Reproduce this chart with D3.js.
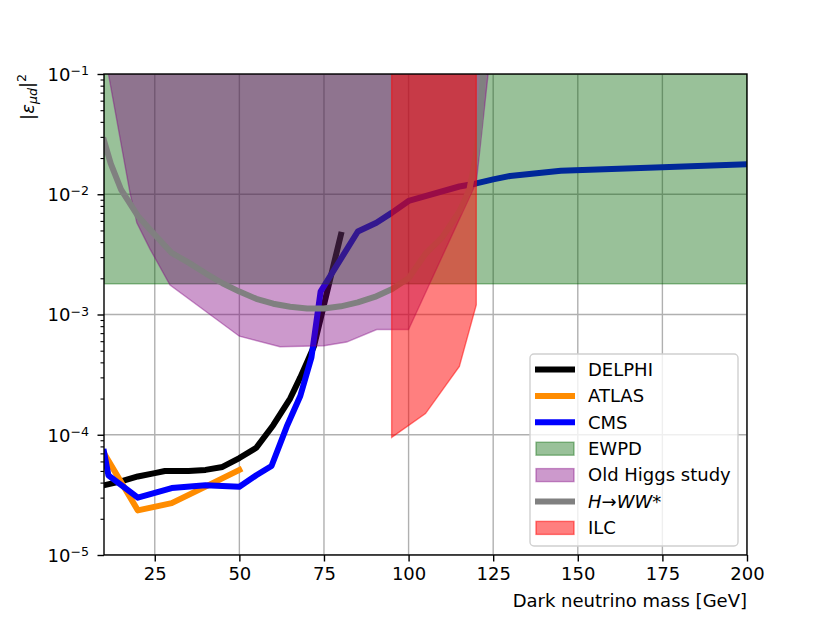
<!DOCTYPE html>
<html>
<head>
<meta charset="utf-8">
<script src="https://cdn.jsdelivr.net/npm/d3@7"></script>
<style>
  body { margin: 0; background: #fff; }
  text { font-family: "DejaVu Sans", sans-serif; }
</style>
</head>
<body>
<div id="chart"></div>
<script>
var width = 830;
var height = 623;
var fontSize = 18;

// Data (mass in GeV, |eps_mu d|^2)
var delphiMass = [10, 15, 20, 25, 28, 35, 40, 45, 50, 55, 60, 65, 68, 70, 72, 80];
var delphiEps = [3.8e-5, 4.1e-5, 4.5e-5, 4.8e-5, 5.0e-5, 5.0e-5, 5.1e-5, 5.4e-5, 6.4e-5, 7.8e-5, 1.2e-4, 2.0e-4, 3.0e-4, 4.0e-4, 5.4e-4, 4.6e-3];

var atlasMass = [10, 20, 30, 40, 50];
var atlasEps = [7.0e-5, 2.35e-5, 2.7e-5, 3.7e-5, 5.1e-5];

var cmsMass = [10, 11.3, 20, 30, 40, 50, 55, 59.5, 64, 68, 71.3, 74, 85, 90.5, 95, 100, 115, 120, 125, 130, 145, 175, 200];
var cmsEps = [7.2e-5, 4.6e-5, 3.0e-5, 3.6e-5, 3.8e-5, 3.7e-5, 4.6e-5, 5.5e-5, 1.17e-4, 2.1e-4, 4.4e-4, 1.55e-3, 4.9e-3, 5.8e-3, 7.0e-3, 8.8e-3, 1.16e-2, 1.23e-2, 1.33e-2, 1.42e-2, 1.57e-2, 1.68e-2, 1.78e-2];

var ewpdMass = [10, 200];
var ewpdLower = [1.8e-3, 1.8e-3];

var higgsMass = [10, 17.7, 19.7, 23.6, 29.5, 50, 62, 75, 81.7, 90.6, 100, 120, 123.5];
var higgsLower = [0.16, 1.02e-2, 5.8e-3, 3.5e-3, 1.76e-3, 6.6e-4, 5.4e-4, 5.5e-4, 5.9e-4, 7.5e-4, 7.5e-4, 1.25e-2, 0.1];

var hwwMass = [10, 12, 15, 20, 25, 30, 35, 40, 45, 50, 55, 60, 65, 70, 75, 80, 85, 90, 95, 100, 105, 110, 115, 118, 120, 121, 122, 123];
var hwwEps = [2.8e-2, 1.8e-2, 1.1e-2, 6.6e-3, 4.6e-3, 3.25e-3, 2.7e-3, 2.2e-3, 1.82e-3, 1.55e-3, 1.35e-3, 1.23e-3, 1.16e-3, 1.12e-3, 1.12e-3, 1.17e-3, 1.26e-3, 1.4e-3, 1.62e-3, 2.0e-3, 3.2e-3, 4.4e-3, 7.2e-3, 1.1e-2, 2.2e-2, 4.0e-2, 0.1, 0.3];

var ilcMass = [95, 105, 115, 120];
var ilcLower = [9.5e-5, 1.5e-4, 3.7e-4, 1.2e-3];

var xTicks = [25, 50, 75, 100, 125, 150, 175, 200];
var yTicks = [1e-5, 1e-4, 1e-3, 1e-2, 1e-1];
var yTickExp = ["\u22125", "\u22124", "\u22123", "\u22122", "\u22121"];

var legendLabels = ["DELPHI", "ATLAS", "CMS", "EWPD", "Old Higgs study", "H\u2192WW*", "ILC"];

// Scales
var x = d3.scaleLinear().domain([10, 200]).range([104, 747]);
var y = d3.scaleLog().domain([1e-5, 1e-1]).range([555, 74]);

var svg = d3.select("#chart")
    .append("svg")
    .attr("width", width)
    .attr("height", height);

svg.append("defs").append("clipPath")
    .attr("id", "plot-clip")
    .append("rect")
    .attr("x", 104).attr("y", 74)
    .attr("width", 643).attr("height", 481);

// Grid
var grid = svg.append("g").attr("clip-path", "url(#plot-clip)");
grid.selectAll(".gx")
    .data(xTicks)
    .enter()
    .append("line")
    .attr("x1", d => x(d)).attr("x2", d => x(d))
    .attr("y1", 74).attr("y2", 555)
    .attr("stroke", "#b0b0b0")
    .attr("stroke-width", 1.4);
grid.selectAll(".gy")
    .data(yTicks)
    .enter()
    .append("line")
    .attr("x1", 104).attr("x2", 747)
    .attr("y1", d => y(d)).attr("y2", d => y(d))
    .attr("stroke", "#b0b0b0")
    .attr("stroke-width", 1.4);

var plot = svg.append("g").attr("clip-path", "url(#plot-clip)");

var line = d3.line()
    .x(d => x(d[0]))
    .y(d => y(d[1]));

function drawLine(mass, eps, color) {
    plot.append("path")
        .attr("d", line(d3.zip(mass, eps)))
        .attr("fill", "none")
        .attr("stroke", color)
        .attr("stroke-width", 6)
        .attr("stroke-linejoin", "round")
        .attr("stroke-linecap", "square");
}

function drawBand(mass, lower, color, alpha) {
    var area = d3.area()
        .x(d => x(d[0]))
        .y0(y(1))
        .y1(d => y(d[1]));
    plot.append("path")
        .attr("d", area(d3.zip(mass, lower)))
        .attr("fill", color)
        .attr("fill-opacity", alpha)
        .attr("stroke", color)
        .attr("stroke-opacity", alpha)
        .attr("stroke-width", 1.4);
}

// Same stacking as the reference: lines first, then bands, H->WW, ILC
drawLine(delphiMass, delphiEps, "black");
drawLine(atlasMass, atlasEps, "#ff8c00");
drawLine(cmsMass, cmsEps, "blue");
drawBand(ewpdMass, ewpdLower, "darkgreen", 0.4);
drawBand(higgsMass, higgsLower, "purple", 0.4);
drawLine(hwwMass, hwwEps, "gray");
drawBand(ilcMass, ilcLower, "red", 0.5);

// Axes
var xAxis = svg.append("g")
    .attr("transform", "translate(0,555)")
    .call(d3.axisBottom(x).tickValues(xTicks).tickSize(6.5).tickPadding(6));
xAxis.select(".domain").remove();
xAxis.selectAll("text")
    .attr("font-size", fontSize)
    .attr("fill", "black")
    .attr("font-family", "DejaVu Sans");
xAxis.selectAll("line").attr("stroke-width", 1.4);

var minorTicks = [];
yTicks.slice(0, -1).forEach(function(d) {
    for (var k = 2; k <= 9; k++) minorTicks.push(d * k);
});

var yMinor = svg.append("g")
    .attr("transform", "translate(104,0)")
    .call(d3.axisLeft(y).tickValues(minorTicks).tickSize(3.5).tickFormat(""));
yMinor.select(".domain").remove();
yMinor.selectAll("line").attr("stroke-width", 1.1);

var yAxis = svg.append("g")
    .attr("transform", "translate(104,0)")
    .call(d3.axisLeft(y).tickValues(yTicks).tickSize(6.5).tickFormat(""));
yAxis.select(".domain").remove();
yAxis.selectAll("line").attr("stroke-width", 1.4);
yAxis.selectAll(".tick").each(function(d, i) {
    var t = d3.select(this).append("text")
        .attr("x", -15)
        .attr("dy", "0.35em")
        .attr("text-anchor", "end")
        .attr("font-size", fontSize)
        .attr("fill", "black");
    t.append("tspan").text("10");
    t.append("tspan")
        .attr("dy", "-0.45em")
        .attr("font-size", fontSize * 0.7)
        .text(yTickExp[i]);
});

// Spines
svg.append("rect")
    .attr("x", 104).attr("y", 74)
    .attr("width", 643).attr("height", 481)
    .attr("fill", "none")
    .attr("stroke", "black")
    .attr("stroke-width", 1.4);

// Axis labels
svg.append("text")
    .attr("x", 747)
    .attr("y", 607)
    .attr("text-anchor", "end")
    .attr("font-size", fontSize)
    .text("Dark neutrino mass [GeV]");

var yLabel = svg.append("text")
    .attr("transform", "translate(34,74) rotate(-90)")
    .attr("text-anchor", "end")
    .attr("font-size", fontSize);
yLabel.append("tspan").text("|");
yLabel.append("tspan").attr("font-style", "italic").text("\u03b5");
yLabel.append("tspan").attr("font-style", "italic").attr("font-size", fontSize * 0.7).attr("dy", "0.25em").text("\u03bcd");
yLabel.append("tspan").attr("dy", "-0.25em").text("|");
yLabel.append("tspan").attr("font-size", fontSize * 0.7).attr("dy", "-0.5em").text("2");

// Legend
var legend = svg.append("g");
legend.append("rect")
    .attr("x", 530).attr("y", 354)
    .attr("width", 208).attr("height", 192)
    .attr("rx", 4)
    .attr("fill", "white")
    .attr("fill-opacity", 0.8)
    .attr("stroke", "#d0d0d0")
    .attr("stroke-width", 1.4);

var legendStyles = [
    {type: "line", color: "black"},
    {type: "line", color: "#ff8c00"},
    {type: "line", color: "blue"},
    {type: "patch", color: "darkgreen", alpha: 0.4},
    {type: "patch", color: "purple", alpha: 0.4},
    {type: "line", color: "gray"},
    {type: "patch", color: "red", alpha: 0.5}
];

legendLabels.forEach(function(label, i) {
    var cy = 369.5 + i * 26.4;
    var s = legendStyles[i];
    if (s.type === "line") {
        legend.append("line")
            .attr("x1", 538).attr("x2", 572)
            .attr("y1", cy).attr("y2", cy)
            .attr("stroke", s.color)
            .attr("stroke-width", 6)
            .attr("stroke-linecap", "square");
    } else {
        legend.append("rect")
            .attr("x", 536).attr("y", cy - 6.5)
            .attr("width", 38).attr("height", 13)
            .attr("fill", s.color)
            .attr("fill-opacity", s.alpha)
            .attr("stroke", s.color)
            .attr("stroke-opacity", s.alpha)
            .attr("stroke-width", 1.4);
    }
    var t = legend.append("text")
        .attr("x", 588)
        .attr("y", cy)
        .attr("dy", "0.35em")
        .attr("font-size", fontSize);
    if (i === 5) {
        t.append("tspan").attr("font-style", "italic").text("H");
        t.append("tspan").text("\u2192");
        t.append("tspan").attr("font-style", "italic").text("WW");
        t.append("tspan").text("*");
    } else {
        t.text(label);
    }
});
</script>
</body>
</html>
